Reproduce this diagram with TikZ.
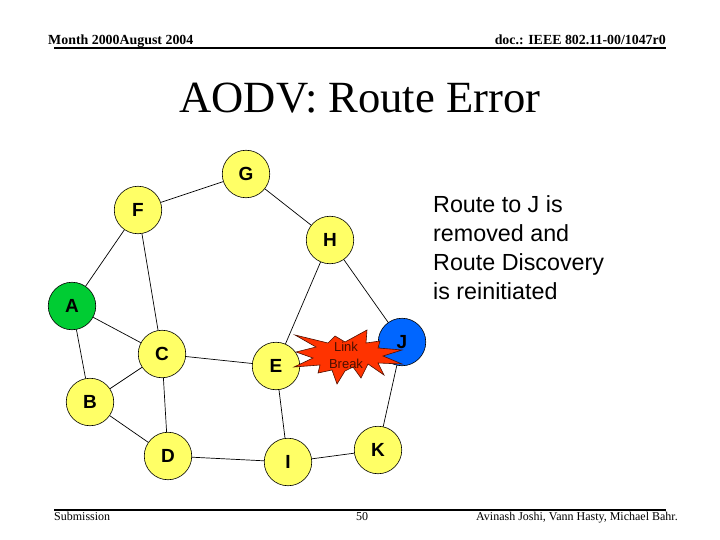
\documentclass[tikz,border=0pt]{standalone}
\usepackage{fontspec}
\setmainfont{Liberation Serif}
\newfontfamily\arialf{Liberation Sans}
\definecolor{nodey}{RGB}{255,255,102}
\definecolor{nodeg}{RGB}{0,204,51}
\definecolor{nodeb}{RGB}{0,102,255}
\definecolor{starc}{RGB}{255,51,0}
\tikzset{x=1pt,y=-1pt,
 netnode/.style={circle,draw=black,line width=0.6pt,minimum size=47.5pt,inner sep=0pt,fill=nodey,font=\arialf\fontsize{19}{21}\selectfont\bfseries},
 link/.style={draw=black,line width=0.7pt},
 rulebar/.style={draw=black,line width=1.4pt}}
\begin{document}
\begin{tikzpicture}
\useasboundingbox (0,0) rectangle (720,540);
\fill[white] (0,0) rectangle (720,540);
\coordinate (hl) at (54,48); \coordinate (hr) at (666,48);
\coordinate (fl) at (54,510); \coordinate (fr) at (666,510);
\draw[rulebar] (hl) -- (hr);
\draw[rulebar] (fl) -- (fr);
\node[anchor=base west,inner sep=0pt,font=\fontsize{13.9}{15}\selectfont\bfseries] (hd1) at (48,45) {Month 2000August 2004};
\node[anchor=base east,inner sep=0pt,font=\fontsize{13.9}{15}\selectfont\bfseries] (hd2) at (666,45) {doc.: IEEE 802.11-00/1047r0};
\node[anchor=base,inner sep=0pt,font=\fontsize{44.6}{48}\selectfont] (title) at (360,113) {AODV: Route Error};
\node[anchor=base west,inner sep=0pt,font=\fontsize{12}{14}\selectfont] (sub) at (54,520) {Submission};
\node[anchor=base,inner sep=0pt,font=\fontsize{12}{14}\selectfont] (pg) at (362,520) {50};
\node[anchor=base east,inner sep=0pt,font=\fontsize{12}{14}\selectfont] (auth) at (678,520) {Avinash Joshi, Vann Hasty, Michael Bahr.};
\node[netnode] (G) at (246,174) {G};
\node[netnode] (F) at (138,210) {F};
\node[netnode] (H) at (330,240) {H};
\node[netnode,fill=nodeg] (A) at (72,306) {A};
\node[netnode] (C) at (162,354) {C};
\node[netnode] (E) at (276,366) {E};
\node[netnode,fill=nodeb] (J) at (402,342) {J};
\node[netnode] (B) at (90,402) {B};
\node[netnode] (D) at (168,456) {D};
\node[netnode] (I) at (288,462) {I};
\node[netnode] (K) at (378,450) {K};
\foreach \a/\b in {F/G,G/H,F/A,F/C,A/C,A/B,B/C,B/D,C/D,C/E,D/I,E/I,E/H,H/J,J/K,I/K}
  \draw[link] (\a) -- (\b);
\draw[draw=black!70!starc,line width=0.6pt,fill=starc] (295,335) -- (328,343) -- (335,336) -- (345,342) -- (367,330) -- (366,343) -- (380,341) -- (378,348) -- (402,350) -- (383,356) -- (402,364) -- (378,363) -- (384,375) -- (368,364) -- (361,378) -- (353,367) -- (345,371) -- (337,384) -- (332,370) -- (318,373) -- (320,365) -- (294,367) -- (313,358) -- (296,352) -- (316,347) -- cycle;
\node[font=\arialf\fontsize{13}{17}\selectfont,align=center,inner sep=0pt,text=black!70!starc] (lb) at (346,355.5) {Link\\Break};
\node[anchor=base west,align=left,inner sep=0pt,font=\arialf\fontsize{23.3}{28.7}\selectfont] (note) at (433,299) {Route to J is\\removed and\\Route Discovery\\is reinitiated};
\end{tikzpicture}
\end{document}
